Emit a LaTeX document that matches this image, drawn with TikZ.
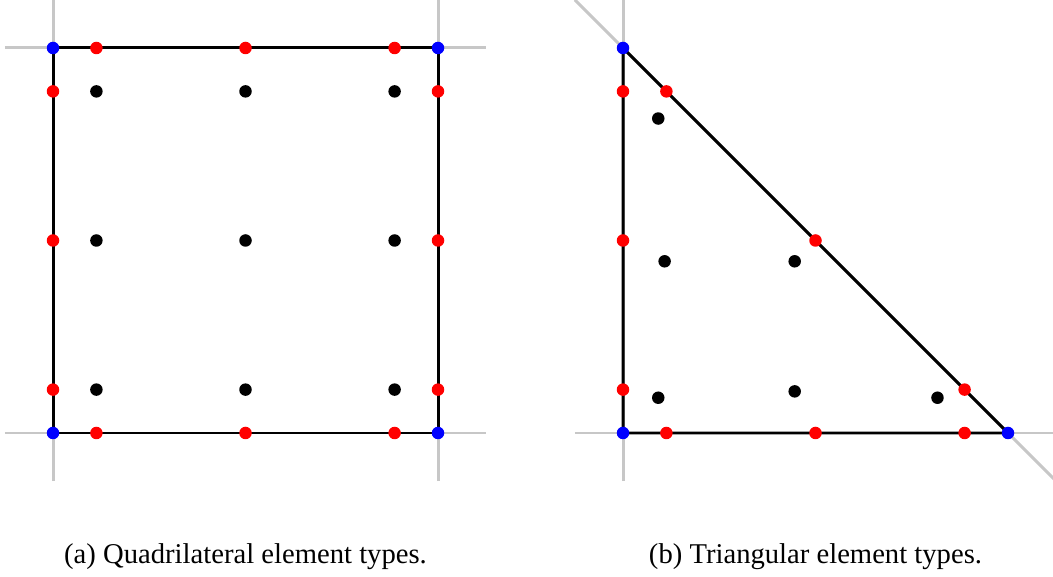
\documentclass[tikz,border=0pt]{standalone}
\usepackage{fontspec}
\setmainfont{Liberation Serif}
\usetikzlibrary{backgrounds}

\begin{document}
\begin{tikzpicture}[
  x=7.7cm, y=7.7cm,
  axis/.style ={draw=black!22, line width=1.7pt},              % reference axes
  edge/.style ={draw=black, line width=1.7pt},                 % element boundary
  vnode/.style={circle, fill=blue, inner sep=0pt, minimum size=2.5mm},   % vertices
  enode/.style={circle, fill=red, inner sep=0pt, minimum size=2.5mm},    % edge points
  inode/.style={circle, fill=black, inner sep=0pt, minimum size=2.5mm},  % interior points
  capt/.style ={anchor=base, font=\fontsize{16.3}{19}\selectfont},
]
\def\S{1.4805}   % panel-b x-offset
\def\E{0.125}    % axis overhang
\clip (-0.1377,-0.374) rectangle (2.5974,1.1247);

% ============================== PANEL (a) ==============================
\foreach \i/\s in {1/0.1127,2/0.5,3/0.8873}{
  \node[enode] (qb\i) at (\s,0) {};
  \node[enode] (qt\i) at (\s,1) {};
  \node[enode] (ql\i) at (0,\s) {};
  \node[enode] (qr\i) at (1,\s) {};
  \foreach \j/\t in {1/0.1127,2/0.5,3/0.8873}{
    \node[inode] (qi\i\j) at (\s,\t) {};
  }
}
\foreach \a in {0,1}{ \foreach \b in {0,1}{
  \node[vnode] (q\a\b) at (\a,\b) {};
}}
\coordinate (qxl) at (-\E,0);   \coordinate (qxr) at (1+\E,0);
\coordinate (qyl) at (-\E,1);   \coordinate (qyr) at (1+\E,1);
\coordinate (qxb) at (0,-\E);   \coordinate (qxt) at (0,1+\E);
\coordinate (qwb) at (1,-\E);   \coordinate (qwt) at (1,1+\E);

% ============================== PANEL (b) ==============================
\begin{scope}[shift={(\S,0)}]
  \foreach \i/\s/\r in {1/0.1127/0.8873,2/0.5/0.5,3/0.8873/0.1127}{
    \node[enode] (tb\i) at (\s,0) {};
    \node[enode] (tl\i) at (0,\s) {};
    \node[enode] (th\i) at (\s,\r) {};
  }
  % 6-point Gauss rule
  \foreach \k/\u/\v in {1/0.091576/0.091576, 2/0.816848/0.091576, 3/0.091576/0.816848,
                        4/0.445948/0.445948, 5/0.108103/0.445948, 6/0.445948/0.108103}{
    \node[inode] (ti\k) at (\u,\v) {};
  }
  \node[vnode] (t00) at (0,0) {};
  \node[vnode] (t10) at (1,0) {};
  \node[vnode] (t01) at (0,1) {};
  \coordinate (txl) at (-\E,0);     \coordinate (txr) at (1+\E,0);
  \coordinate (tyb) at (0,-\E);     \coordinate (tyt) at (0,1+\E);
  \coordinate (tdl) at (-\E,1+\E);  \coordinate (tdr) at (1+\E,-\E);
\end{scope}

% ============================== lines (background) ==============================
\begin{scope}[on background layer]
  \draw[axis] (qxl) -- (qxr);  \draw[axis] (qyl) -- (qyr);
  \draw[axis] (qxb) -- (qxt);  \draw[axis] (qwb) -- (qwt);
  \draw[axis] (txl) -- (txr);  \draw[axis] (tyb) -- (tyt);
  \draw[axis] (tdl) -- (tdr);
  \draw[edge] (q00.center) -- (q10.center) -- (q11.center) -- (q01.center) -- cycle;
  \draw[edge] (t00.center) -- (t10.center) -- (t01.center) -- cycle;
\end{scope}

% ============================== captions ==============================
\node[capt] (capa) at (0.5,-0.3377) {(a) Quadrilateral element types.};
\node[capt] (capb) at (\S+0.5,-0.3377) {(b) Triangular element types.};
\end{tikzpicture}
\end{document}
